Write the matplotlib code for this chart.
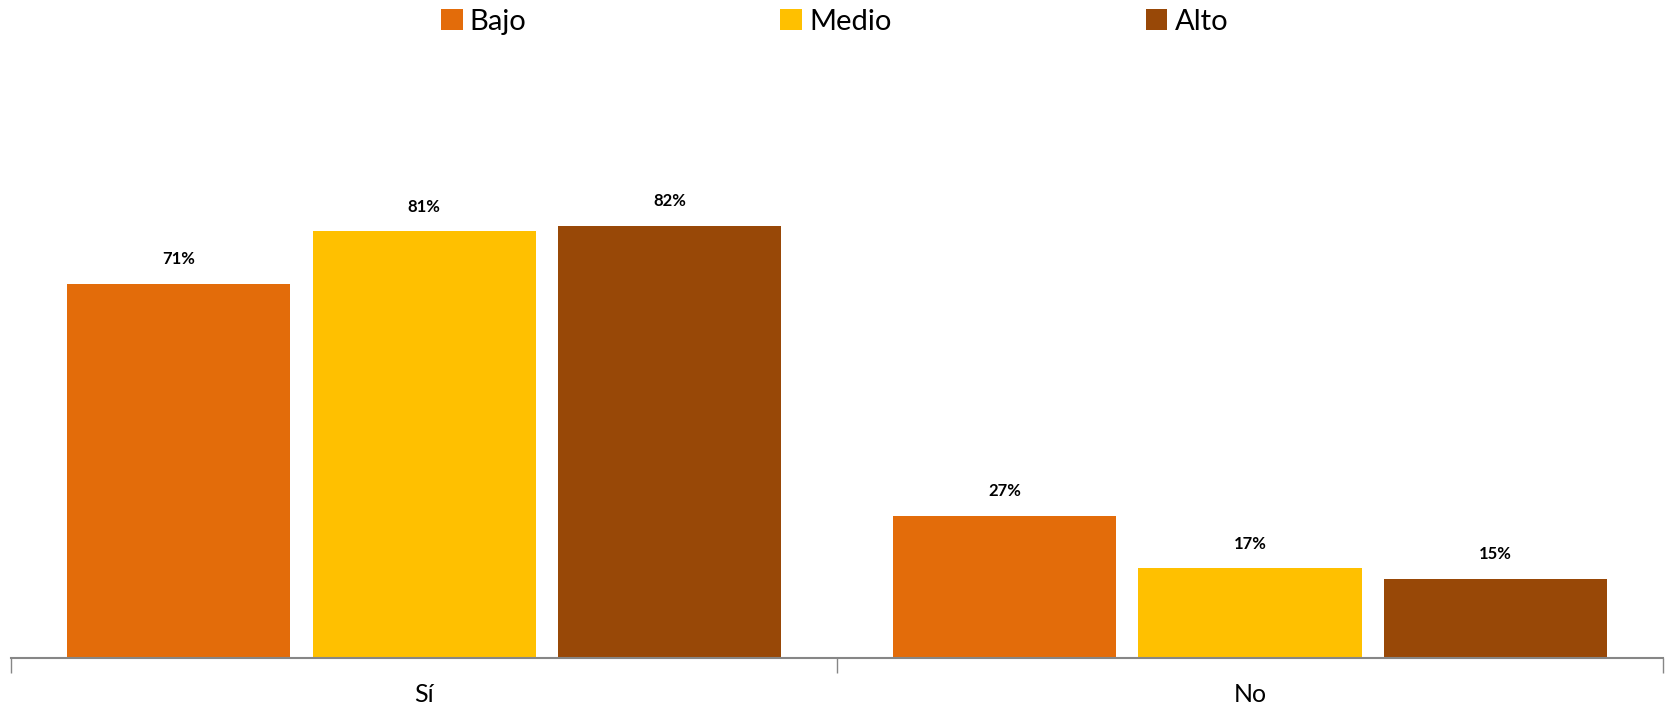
import numpy as np
import matplotlib
matplotlib.use("Agg")
import matplotlib.pyplot as plt
from matplotlib.patches import Patch

plt.rcParams['font.family'] = ['Lato', 'DejaVu Sans']

categories = ["Sí", "No"]
series = ["Bajo", "Medio", "Alto"]
bajo = [71, 27]
medio = [81, 17]
alto = [82, 15]
colors = ["#E36C0A", "#FFC000", "#984807"]

fig = plt.figure(figsize=(16.69, 7.05), dpi=100)
ax = fig.add_axes([0.0066, 0.0667, 0.9898, 0.747])

x = np.arange(len(categories))
width = 0.27
offsets = [-0.297, 0.0, 0.297]
for vals, off, col, name in zip([bajo, medio, alto], offsets, colors, series):
    bars = ax.bar(x + off, vals, width, color=col, label=name, zorder=2)
    for b, v in zip(bars, vals):
        ax.annotate(f"{v}%", (b.get_x() + b.get_width() / 2, v),
                    xytext=(0, 12), textcoords="offset points",
                    ha="center", va="bottom", fontsize=12, fontweight="bold")

ax.set_xlim(-0.5, len(categories) - 0.5)
ax.set_ylim(0, 100)
ax.set_yticks([])
for s in ["top", "right", "left"]:
    ax.spines[s].set_visible(False)
ax.spines["bottom"].set_color("#868686")
ax.spines["bottom"].set_linewidth(1.5)

ax.set_xticks(x)
ax.set_xticklabels(categories, fontsize=18)
ax.tick_params(axis="x", which="major", length=0, pad=18)
ax.set_xticks(np.arange(-0.5, len(categories)), minor=True)
ax.tick_params(axis="x", which="minor", length=11, width=1, color="#868686")

handles = [Patch(facecolor=c, label=n) for c, n in zip(colors, series)]
fig.legend(handles=handles, loc="upper center", bbox_to_anchor=(0.5, 1.025),
           ncol=3, frameon=False, fontsize=21, handlelength=0.75,
           handleheight=0.75, handletextpad=0.25, columnspacing=8.7)

fig.savefig("out.png", dpi=100)
